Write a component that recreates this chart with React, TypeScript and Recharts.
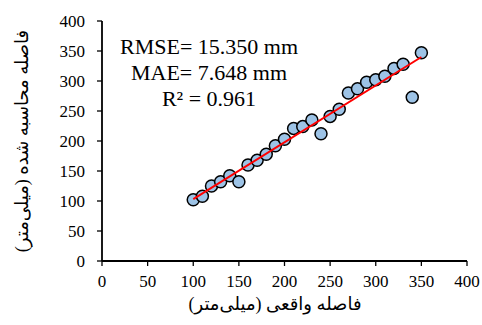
import { ScatterChart, Scatter, XAxis, YAxis, Label } from 'recharts';

// measured vs. computed distance (mm)
const actualMm = [100, 110, 120, 130, 140, 150, 160, 170, 180, 190, 200, 210, 220, 230, 240, 250, 260, 270, 280, 290, 300, 310, 320, 330, 340, 350];
const computedMm = [102, 108, 125, 132, 142, 132, 160, 168, 178, 192, 203, 221, 224, 235, 212, 241, 253, 280, 287, 298, 302, 308, 321, 328, 273, 347];

// linear fit endpoints
const trendX = [100, 350];
const trendY = [103, 340];

const axisTicks = [0, 50, 100, 150, 200, 250, 300, 350, 400];

const statLines = ['RMSE= 15.350 mm', 'MAE= 7.648 mm', 'R² = 0.961'];

const xTitle = 'فاصله واقعی (میلی‌متر)';
const yTitle = 'فاصله محاسبه شده (میلی‌متر)';

const points = actualMm.map((x, i) => ({ x, y: computedMm[i] }));
const trend = trendX.map((x, i) => ({ x, y: trendY[i] }));

const FONT = '"Liberation Serif", "Times New Roman", "DejaVu Serif", serif';
const PERSIAN_FONT = '"Times New Roman", "Liberation Serif", "DejaVu Sans", serif';

function YTitle(props: any) {
  const vb = props.viewBox || {};
  const cy = (vb.y ?? 21) + (vb.height ?? 240) / 2;
  return (
    <text
      x={22}
      y={cy}
      transform={`rotate(-90, 22, ${cy})`}
      textAnchor="middle"
      dominantBaseline="central"
      fontSize={18}
      fontFamily={PERSIAN_FONT}
      fill="#000"
    >
      {yTitle}
    </text>
  );
}

function XTitle() {
  return (
    <text x={275} y={310} textAnchor="middle" fontSize={18} fontFamily={PERSIAN_FONT} fill="#000">
      {xTitle}
    </text>
  );
}

export default function App() {
  return (
    <div style={{ position: 'absolute', left: 0, top: 0, width: 482, height: 325, background: '#fff' }}>
      <ScatterChart width={482} height={325} margin={{ top: 21, right: 15, bottom: 0, left: 0 }}>
        <XAxis
          type="number"
          dataKey="x"
          domain={[0, 400]}
          ticks={axisTicks}
          height={64}
          axisLine={{ stroke: '#000', strokeWidth: 1.8 }}
          tickLine={{ stroke: '#000', strokeWidth: 1.3 }}
          tickSize={5}
          tickMargin={9}
          tick={{ fill: '#000', fontSize: 17, fontFamily: FONT }}
        >
          <Label content={XTitle} />
        </XAxis>
        <YAxis
          type="number"
          dataKey="y"
          domain={[0, 400]}
          ticks={axisTicks}
          width={102}
          axisLine={{ stroke: '#000', strokeWidth: 1.8 }}
          tickLine={{ stroke: '#000', strokeWidth: 1.3 }}
          tickSize={5}
          tickMargin={12}
          tick={{ fill: '#000', fontSize: 17, fontFamily: FONT }}
        >
          <Label content={YTitle} />
        </YAxis>
        <Scatter
          data={points}
          fill="#9DC3E6"
          stroke="#000"
          strokeWidth={1.5}
          shape={(p: any) => (
            <circle cx={p.cx} cy={p.cy} r={6} fill="#9DC3E6" stroke="#000" strokeWidth={1.5} />
          )}
          isAnimationActive={false}
        />
        <Scatter
          data={trend}
          line={{ stroke: '#FF0000', strokeWidth: 2 }}
          shape={() => <g />}
          isAnimationActive={false}
        />
        {statLines.map((s, i) => (
          <text
            key={s}
            x={209}
            y={54 + i * 26}
            textAnchor="middle"
            fontSize={22}
            fontFamily={FONT}
            fill="#000"
          >
            {s}
          </text>
        ))}
      </ScatterChart>
    </div>
  );
}
